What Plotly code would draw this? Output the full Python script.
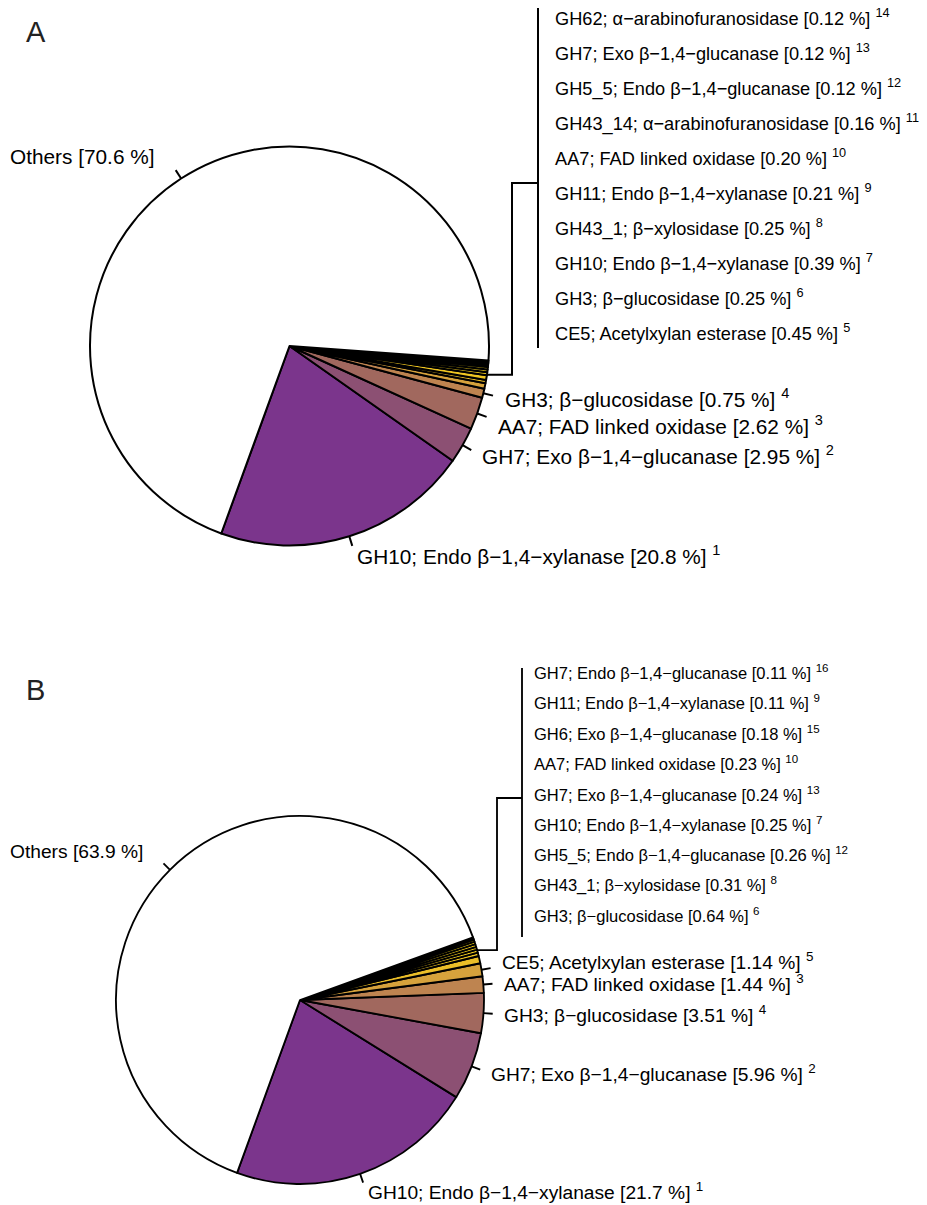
import math
import plotly.graph_objects as go

W, H = 927, 1205
FONT = "Liberation Sans, Arial, Helvetica, sans-serif"

# ---------------- Data: panel A ----------------
a_names = [
    "GH10; Endo β−1,4−xylanase",
    "GH7; Exo β−1,4−glucanase",
    "AA7; FAD linked oxidase",
    "GH3; β−glucosidase",
    "CE5; Acetylxylan esterase",
    "GH3; β−glucosidase",
    "GH10; Endo β−1,4−xylanase",
    "GH43_1; β−xylosidase",
    "GH11; Endo β−1,4−xylanase",
    "AA7; FAD linked oxidase",
    "GH43_14; α−arabinofuranosidase",
    "GH5_5; Endo β−1,4−glucanase",
    "GH7; Exo β−1,4−glucanase",
    "GH62; α−arabinofuranosidase",
    "Others",
]
a_values = [20.8, 2.95, 2.62, 0.75, 0.45, 0.25, 0.39, 0.25, 0.21, 0.20, 0.16, 0.12, 0.12, 0.12, 70.6]
a_refs = ["1", "2", "3", "4", "5", "6", "7", "8", "9", "10", "11", "12", "13", "14", ""]

# ---------------- Data: panel B ----------------
b_names = [
    "GH10; Endo β−1,4−xylanase",
    "GH7; Exo β−1,4−glucanase",
    "GH3; β−glucosidase",
    "AA7; FAD linked oxidase",
    "CE5; Acetylxylan esterase",
    "GH3; β−glucosidase",
    "GH43_1; β−xylosidase",
    "GH5_5; Endo β−1,4−glucanase",
    "GH10; Endo β−1,4−xylanase",
    "GH7; Exo β−1,4−glucanase",
    "AA7; FAD linked oxidase",
    "GH6; Exo β−1,4−glucanase",
    "GH11; Endo β−1,4−xylanase",
    "GH7; Endo β−1,4−glucanase",
    "Others",
]
b_values = [21.7, 5.96, 3.51, 1.44, 1.14, 0.64, 0.31, 0.26, 0.25, 0.24, 0.23, 0.18, 0.11, 0.11, 63.9]
b_refs = ["1", "2", "4", "3", "5", "6", "8", "12", "7", "13", "10", "15", "9", "16", ""]

# ---------------- Styles ----------------
slice_colors = ["#7B358C", "#8C5073", "#A1685E", "#BE8450", "#D6A23C", "#EBBE28",
                "#F0C622", "#F2CB1F", "#F4CF1C", "#F5D21A", "#F6D518", "#F7D816",
                "#F8DA15", "#F9DC14", "#FFFFFF"]
START_DEG = -110.0  # first slice starts here (math angle), slices run counterclockwise

panels = [
    dict(letter="A", names=a_names, values=a_values, refs=a_refs, n_main=4,
         cx=289.5, cy=346.0, r=199.5, main_size=20.8, list_size=18.2, lw=2.0,
         list_x=553, list_y0=17, list_dy=35.0,
         br_x=538, br_top=8, br_bot=348, link_x=512, link_y=183,
         letter_y=32, nudge={2: 5}, left_shift=(-13, 5)),
    dict(letter="B", names=b_names, values=b_values, refs=b_refs, n_main=5,
         cx=300.0, cy=1000.0, r=184.0, main_size=19.2, list_size=16.5, lw=1.85,
         list_x=532, list_y0=672, list_dy=30.4,
         br_x=522, br_top=668, br_bot=937, link_x=497, link_y=798,
         letter_y=690, nudge={4: -6}, left_shift=(-12, 5)),
]


def fmt(v):
    return f"{v:.1f}" if v >= 10 else f"{v:.2f}"


def label_text(name, v, ref):
    t = f"{name} [{fmt(v)} %]"
    if ref:
        t += f" <sup>{ref}</sup>"
    return t


fig = go.Figure()
annotations = []

for p in panels:
    vals = p["values"]
    total = sum(vals)
    cx, cy, r = p["cx"], p["cy"], p["r"]
    # slice angle ranges (math angles, counterclockwise)
    ang = []
    cur = START_DEG
    for v in vals:
        span = 360.0 * v / total
        ang.append((cur, cur + span))
        cur += span

    def pt(theta, rad):
        t = math.radians(theta)
        return cx + rad * math.cos(t), cy - rad * math.sin(t)

    # plotly (counterclockwise): first slice ends at the rotation line
    rot = 90 - (START_DEG + 360.0 * vals[0] / total)
    rot = ((rot + 180) % 360) - 180

    uniq = [label_text(n, v, rf) for n, v, rf in zip(p["names"], vals, p["refs"])]
    fig.add_trace(go.Pie(
        values=vals, labels=uniq, sort=False, direction="counterclockwise",
        rotation=rot,
        marker=dict(colors=slice_colors[:len(vals)], line=dict(color="black", width=p["lw"])),
        textinfo="none", hoverinfo="skip", showlegend=False,
        domain=dict(x=[(cx - r) / W, (cx + r) / W], y=[1 - (cy + r) / H, 1 - (cy - r) / H]),
    ))

    # individually labelled slices: the main ones + Others
    main_idx = list(range(p["n_main"])) + [len(vals) - 1]
    tx, ty = [], []
    for i in main_idx:
        mid = (ang[i][0] + ang[i][1]) / 2
        x0, y0 = pt(mid, r)
        x1, y1 = pt(mid, 1.05 * r)
        tx += [x0, x1, None]
        ty += [y0, y1, None]
        lx, ly = pt(mid, 1.1 * r)
        right = math.cos(math.radians(mid)) >= 0
        ly += p["nudge"].get(i, 0)
        annotations.append(dict(
            x=lx, y=ly, xref="x", yref="y", showarrow=False,
            text=label_text(p["names"][i], vals[i], p["refs"][i]),
            xanchor="left" if right else "right", yanchor="middle",
            xshift=0 if right else p["left_shift"][0],
            yshift=0 if right else p["left_shift"][1],
            font=dict(family=FONT, size=p["main_size"], color="black"),
        ))
    fig.add_trace(go.Scatter(x=tx, y=ty, mode="lines", line=dict(color="black", width=p["lw"]),
                             hoverinfo="skip", showlegend=False))

    # grouped small slices: bracket and list
    g0, g1 = p["n_main"], len(vals) - 2
    gmid = (ang[g0][0] + ang[g1][1]) / 2
    ex, ey = pt(gmid, r)
    bx = [ex, p["link_x"], p["link_x"], p["br_x"], None, p["br_x"], p["br_x"]]
    by = [ey, ey, p["link_y"], p["link_y"], None, p["br_top"], p["br_bot"]]
    fig.add_trace(go.Scatter(x=bx, y=by, mode="lines", line=dict(color="black", width=p["lw"]),
                             hoverinfo="skip", showlegend=False))
    for k, i in enumerate(range(g1, g0 - 1, -1)):
        annotations.append(dict(
            x=p["list_x"], y=p["list_y0"] + k * p["list_dy"], xref="x", yref="y",
            showarrow=False, text=label_text(p["names"][i], vals[i], p["refs"][i]),
            xanchor="left", yanchor="middle",
            font=dict(family=FONT, size=p["list_size"], color="black"),
        ))

    annotations.append(dict(
        x=24, y=p["letter_y"], xref="x", yref="y", showarrow=False, text=p["letter"],
        xanchor="left", yanchor="middle", font=dict(family=FONT, size=29, color="#222222"),
    ))

fig.update_layout(
    width=W, height=H, margin=dict(l=0, r=0, t=0, b=0),
    paper_bgcolor="white", plot_bgcolor="rgba(0,0,0,0)",
    xaxis=dict(range=[0, W], visible=False, domain=[0, 1], fixedrange=True),
    yaxis=dict(range=[H, 0], visible=False, domain=[0, 1], fixedrange=True),
    annotations=annotations, showlegend=False,
)

fig.write_html("out.html", config={"displayModeBar": False},
               post_script="document.body.style.margin='0';document.body.style.overflow='hidden';")
